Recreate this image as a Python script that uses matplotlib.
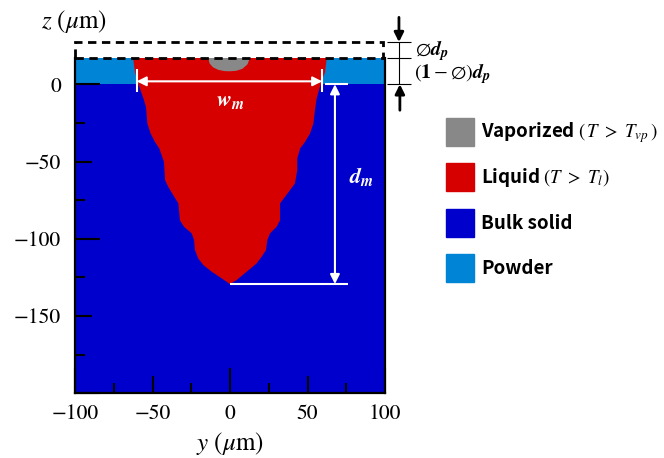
import matplotlib
matplotlib.use('Agg')
import matplotlib.pyplot as plt
from matplotlib.patches import Patch, Rectangle

plt.rcParams['mathtext.fontset'] = 'stix'
plt.rcParams['font.family'] = ['STIXGeneral', 'DejaVu Serif']

# layer limits (um)
y_min, y_max = -100, 100
bulk_bottom = -200
powder_bottom = 0
powder_top = 17
box_top = 27.3

# melt pool outline, left edge top->bottom, right edge bottom->top
pool_left_y = [-62.5, -61.3, -59.1, -55.9, -54.2, -53.3, -51.2, -48.4, -45.6, -44.1,
               -42.6, -41.9, -39.8, -36.6, -33.3, -32.7, -32.3, -29.7, -24.7, -23.2,
               -22.6, -20.5, -17.2, -11.8, -5.4, 0.0]
pool_left_z = [17, 7.7, 0, -9, -14.7, -25.4, -31.9, -37.3, -41.6, -45.9,
               -50.2, -62, -66.4, -71.8, -77.1, -83.6, -88, -92.2, -96.5, -100.8,
               -107.3, -112.7, -117, -121.3, -125.6, -129.3]
pool_right_y = [4.3, 10.8, 17.2, 20.4, 23.2, 24.1, 25.8, 30.1, 32.3, 32.3, 35.5, 38.7,
                41.9, 43.4, 43.4, 45.2, 48.4, 51.6, 53.8, 54.8, 55.9, 58.5, 61.3, 62.4]
pool_right_z = [-126.7, -121.3, -115.9, -111.6, -107.3, -100.8, -96.5, -92.2, -88, -77.1,
                -72.8, -68.5, -64.2, -55.6, -48, -41.6, -37.3, -31.9, -25.4, -16.8,
                -9.2, 0, 7.7, 17]

# vaporized region outline
vapor_y = [-14.0, -13.2, -11.0, -7.5, -3.5, 0.0, 4.0, 8.0, 11.2, 12.9]
vapor_z = [17, 13.5, 11.0, 9.3, 8.5, 8.4, 8.7, 10.0, 12.8, 17]

# melt pool measures
w_left, w_right, w_z = -60.2, 59.5, 1.9
d_y, d_top, d_bottom = 67.7, 0, -129.3

c_bulk = '#0000CC'
c_powder = '#0084D6'
c_liquid = '#D70000'
c_vapor = '#888888'

fig = plt.figure(figsize=(6.64, 4.58), dpi=100)
ax = fig.add_axes([75 / 664, 64.7 / 458, 310 / 664, 335.3 / 458])

ax.fill_between([y_min, y_max], bulk_bottom, powder_bottom, color=c_bulk, lw=0)
ax.fill_between([y_min, y_max], powder_bottom, powder_top, color=c_powder, lw=0)
ax.fill(pool_left_y + pool_right_y, pool_left_z + pool_right_z, color=c_liquid, lw=0)
ax.fill(vapor_y, vapor_z, color=c_vapor, lw=0)

ax.set_xlim(y_min, y_max)
ax.set_ylim(bulk_bottom, powder_top)

# dashed box of powder before shrinkage
ax.add_patch(Rectangle((y_min, powder_top), y_max - y_min - 1, box_top - powder_top,
                       fill=False, ec='black', lw=2, ls=(0, (3, 2)), clip_on=False))

for s in ['left', 'bottom', 'right']:
    ax.spines[s].set_linewidth(1.6)
ax.spines['top'].set_visible(False)

ax.set_xticks([-100, -50, 0, 50, 100], ['\u2212100', '\u221250', '0', '50', '100'])
ax.set_xticks([-75, -25, 25, 75], minor=True)
ax.set_yticks([-200, -150, -100, -50, 0], ['', '\u2212150', '\u2212100', '\u221250', '0'])
ax.set_yticks([-175, -125, -75, -25], minor=True)
ax.tick_params(which='both', direction='in', width=1.5, labelsize=15.5, right=False, top=False)
ax.tick_params(which='major', length=12.2)
ax.tick_params(which='minor', length=7.2)
ax.tick_params(axis='y', pad=10)
ax.tick_params(axis='x', pad=8)

ax.set_xlabel(r'$y\ (\mu\mathrm{m})$', fontsize=18, labelpad=4)
ax.text(y_min - 0.6, 40.5, r'$z\ (\mu\mathrm{m})$', fontsize=18, ha='center', va='center',
        clip_on=False)

# w_m arrow
ax.annotate('', xy=(w_left, w_z), xytext=(w_right, w_z),
            arrowprops=dict(arrowstyle='<|-|>', color='white', lw=1.5, mutation_scale=14,
                            shrinkA=0, shrinkB=0))
ax.vlines([w_left, w_right], -5, 10, color='white', lw=1.5)
ax.text(0, -11, r'$\mathbfit{w}_{\mathbfit{m}}$', color='white', fontsize=16,
        ha='center', va='center')

# d_m arrow
ax.annotate('', xy=(d_y, d_bottom), xytext=(d_y, d_top),
            arrowprops=dict(arrowstyle='<|-|>', color='white', lw=1.5, mutation_scale=14,
                            shrinkA=0, shrinkB=0))
ax.hlines(d_top, 61.3, 75.9, color='white', lw=1.5)
ax.hlines(d_bottom, 0, 75.9, color='white', lw=1.5)
ax.text(85, -60, r'$\mathbfit{d}_{\mathbfit{m}}$', color='white', fontsize=16,
        ha='center', va='center')

# powder thickness marks on the right
ax.hlines([box_top, powder_top, powder_bottom], 101, 116.8, color='black', lw=0.8,
          clip_on=False)
ax.vlines(109, powder_bottom, box_top, color='black', lw=0.8, clip_on=False)
ax.annotate('', xy=(109, box_top), xytext=(109, 43.3), annotation_clip=False,
            arrowprops=dict(arrowstyle='-|>', color='black', lw=2, mutation_scale=14,
                            shrinkA=0, shrinkB=0))
ax.annotate('', xy=(109.6, powder_bottom), xytext=(109.6, -16.8), annotation_clip=False,
            arrowprops=dict(arrowstyle='-|>', color='black', lw=2, mutation_scale=14,
                            shrinkA=0, shrinkB=0))
ax.text(119.5, 18.9, r'$\emptyset\mathbfit{d}_{\mathbfit{p}}$', fontsize=14.5, ha='left',
        va='baseline', clip_on=False)
ax.text(118.8, 4.0, r'$(\mathbf{1}-\emptyset)\mathbfit{d}_{\mathbfit{p}}$', fontsize=14.5,
        ha='left', va='baseline', clip_on=False)

handles = [Patch(color=c_vapor), Patch(color=c_liquid), Patch(color=c_bulk), Patch(color=c_powder)]
labels = [r'Vaporized $(\,T\ >\ T_{vp}\,)$', r'Liquid $(T\ >\ T_l)$', 'Bulk solid', 'Powder']
fig.legend(handles, labels, loc='upper left', bbox_to_anchor=(446 / 664, 1 - 117.7 / 458),
           frameon=False, borderpad=0, borderaxespad=0, handlelength=1.49, handleheight=1.92,
           handletextpad=0.4, labelspacing=0.93,
           prop=dict(family=['Noto Sans CJK KR', 'DejaVu Sans'], weight='bold', size=13.5))

fig.canvas.draw()
# longer ticks at multiples of 100
for t, v in zip(ax.xaxis.get_major_ticks(), ax.get_xticks()):
    if v % 100 == 0:
        t.tick1line.set_markersize(18)
for t, v in zip(ax.yaxis.get_major_ticks(), ax.get_yticks()):
    if v % 100 == 0:
        t.tick1line.set_markersize(18)

fig.savefig('out.png', dpi=100)
